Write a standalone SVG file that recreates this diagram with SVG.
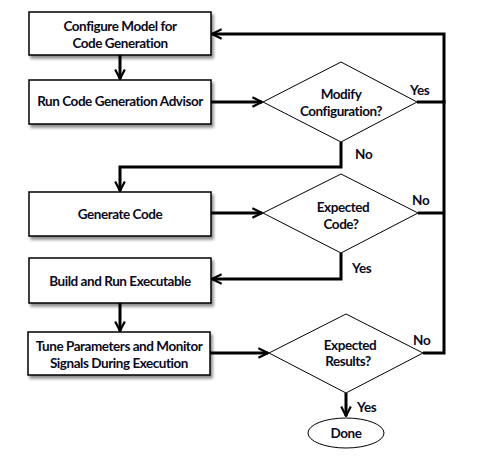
<svg xmlns="http://www.w3.org/2000/svg" width="481" height="468" viewBox="0 0 481 468">
<style>
.box{fill:#fff;stroke:#000;stroke-width:1.5;filter:url(#sh)}
.dia{fill:#fff;stroke:#000;stroke-width:1}
.ln{fill:none;stroke:#000;stroke-width:3}
.t{font-family:Lato,"Open Sans",sans-serif;font-weight:bold;font-size:13.5px;letter-spacing:-0.45px;fill:#0a0a20;text-anchor:middle}
.lb{font-family:Lato,"Open Sans",sans-serif;font-weight:bold;font-size:13.5px;letter-spacing:-0.3px;fill:#0a0a20}
</style>
<defs>
<filter id="sh" x="-10%" y="-10%" width="130%" height="140%">
<feDropShadow dx="2" dy="3" stdDeviation="1.5" flood-color="#000" flood-opacity="0.45"/>
</filter>
<marker id="ar" viewBox="0 0 10 10" refX="9" refY="5" markerWidth="4" markerHeight="4" orient="auto" markerUnits="strokeWidth">
<polyline points="1,1 9,5 1,9" fill="none" stroke="#000" stroke-width="1.8"/>
</marker>
</defs>
<g id="connectors">
<line class="ln" x1="120" y1="55" x2="120" y2="79" marker-end="url(#ar)"/>
<line class="ln" x1="211" y1="102" x2="262" y2="102" marker-end="url(#ar)"/>
<polyline class="ln" points="417,102 444,102 444,34 212,34" marker-end="url(#ar)"/>
<polyline class="ln" points="341,142 341,167 120,167 120,191" marker-end="url(#ar)"/>
<line class="ln" x1="211" y1="213" x2="262" y2="213" marker-end="url(#ar)"/>
<line class="ln" x1="418" y1="213" x2="444" y2="213"/>
<polyline class="ln" points="341,253 341,279 212,279" marker-end="url(#ar)"/>
<line class="ln" x1="120" y1="303" x2="120" y2="331" marker-end="url(#ar)"/>
<line class="ln" x1="210" y1="353" x2="268" y2="353" marker-end="url(#ar)"/>
<polyline class="ln" points="423,353 444,353 444,100"/>
<line class="ln" x1="346" y1="393" x2="346" y2="416" marker-end="url(#ar)"/>
</g>
<g id="n1"><rect class="box" x="29" y="12" width="182" height="43"/><text class="t" x="120" y="31">Configure Model for</text><text class="t" x="120" y="48">Code Generation</text></g>
<g id="n2"><rect class="box" x="29" y="80" width="182" height="44"/><text class="t" x="120" y="106">Run Code Generation Advisor</text></g>
<g id="d1"><polygon class="dia" points="263,102 341,62 417,102 341,142"/><text class="t" x="341" y="99">Modify</text><text class="t" x="341" y="116">Configuration?</text></g>
<g id="n3"><rect class="box" x="29" y="192" width="182" height="44"/><text class="t" x="120" y="219">Generate Code</text></g>
<g id="d2"><polygon class="dia" points="263,213 341,174 418,213 341,253"/><text class="t" x="343" y="212">Expected</text><text class="t" x="341" y="229">Code?</text></g>
<g id="n4"><rect class="box" x="29" y="258" width="182" height="45"/><text class="t" x="120" y="286">Build and Run Executable</text></g>
<g id="n5"><rect class="box" x="28" y="332" width="182" height="43"/><text class="t" x="119" y="351">Tune Parameters and Monitor</text><text class="t" x="119" y="368">Signals During Execution</text></g>
<g id="d3"><polygon class="dia" points="269,353 346,314 423,353 346,393"/><text class="t" x="350" y="350">Expected</text><text class="t" x="348" y="366">Results?</text></g>
<g id="done"><ellipse class="dia" cx="346" cy="433" rx="38" ry="15"/><text class="t" x="346" y="438">Done</text></g>
<g id="labels">
<text class="lb" x="410" y="95">Yes</text>
<text class="lb" x="355" y="159">No</text>
<text class="lb" x="412" y="205">No</text>
<text class="lb" x="352" y="273">Yes</text>
<text class="lb" x="413" y="345">No</text>
<text class="lb" x="357" y="412">Yes</text>
</g>
</svg>
